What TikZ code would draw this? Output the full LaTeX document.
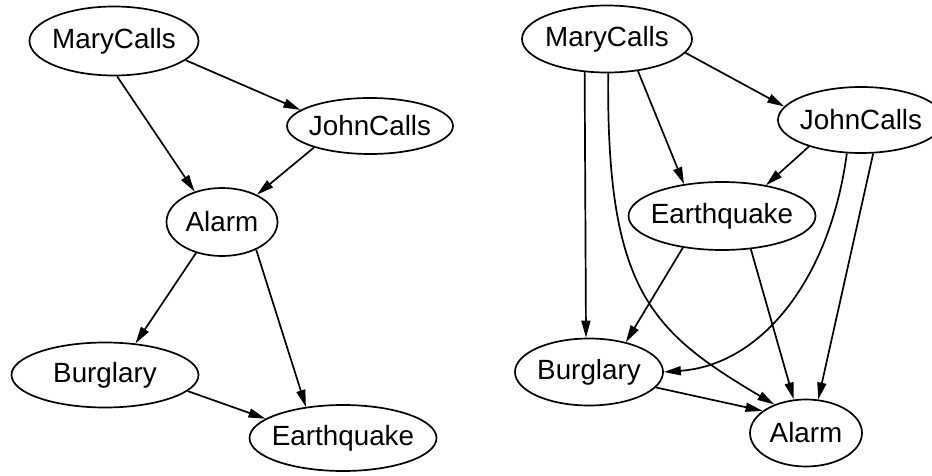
\documentclass[tikz,border=0pt]{standalone}
\usepackage{fontspec}
\setmainfont{Liberation Sans}
\usetikzlibrary{shapes.geometric,arrows.meta}

\begin{document}
\begin{tikzpicture}[x=0.5pt, y=-0.5pt, line width=0.85pt, >={Triangle[length=8.5pt,width=4.5pt]},
  var/.style={draw, ellipse, inner xsep=-3pt, inner ysep=0pt, font=\fontsize{13.9}{16}\selectfont}]

\useasboundingbox (0,0) rectangle (932,476);

% Knoten links
\node[var, minimum width=84.5pt, minimum height=34.5pt] (mc1) at (114,41) {MaryCalls};
\node[var, minimum width=83pt, minimum height=28pt] (jc1) at (370,126) {JohnCalls};
\node[var, minimum width=55.5pt, minimum height=34pt] (al1) at (222,222) {Alarm};
\node[var, minimum width=93.5pt, minimum height=32.5pt] (bg1) at (105,375) {Burglary};
\node[var, minimum width=93.5pt, minimum height=33pt] (eq1) at (343,438) {Earthquake};

% Kanten links
\draw[->] (mc1.-15) -- (jc1.167);
\draw[->] (mc1.-85) -- (al1.132);
\draw[->] (jc1.201) -- (al1.38);
\draw[->] (al1.-130) -- (bg1.46);
\draw[->] (al1.-39) -- (eq1.140);
\draw[->] (bg1.-11) -- (eq1.166);

% Knoten rechts
\node[var, minimum width=85pt, minimum height=33.5pt] (mc2) at (607,39) {MaryCalls};
\node[var, minimum width=83pt, minimum height=33pt] (jc2) at (861,120) {JohnCalls};
\node[var, minimum width=93.5pt, minimum height=34pt] (eq2) at (722,216) {Earthquake};
\node[var, minimum width=74pt, minimum height=33.5pt] (bg2) at (589,372) {Burglary};
\node[var, minimum width=56pt, minimum height=33.5pt] (al2) at (806,433) {Alarm};

% Kanten rechts
\draw[->] (mc2.-10) -- (jc2.170);
\draw[->] (mc2.-124) -- (bg2.95);
\draw[->] (mc2.-46) -- (eq2.140);
\draw[->] (mc2.-88) .. controls +(-2,218) and +(-123,-73) .. (al2.138);
\draw[->] (jc2.-153) -- (eq2.35);
\draw[->] (jc2.-113) .. controls +(-17,127) and +(97,-7) .. (bg2.0);
\draw[->] (jc2.-70) -- (al2.70);
\draw[->] (eq2.-141) -- (bg2.39);
\draw[->] (eq2.-49) -- (al2.110);
\draw[->] (bg2.-13) -- (al2.153);

\end{tikzpicture}
\end{document}
